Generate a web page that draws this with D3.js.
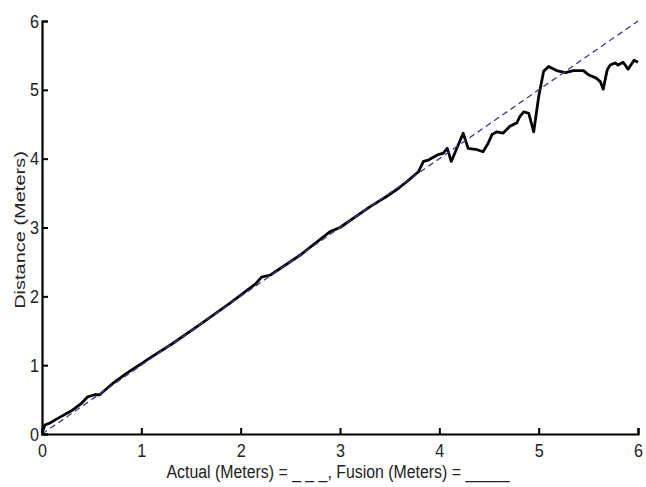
<!DOCTYPE html>
<html>
<head>
<meta charset="utf-8">
<script src="https://d3js.org/d3.v7.min.js"></script>
<style>
  body { margin: 0; background: #fff; }
  text { font-family: "Liberation Sans", Arial, sans-serif; fill: #222; }
</style>
</head>
<body>
<script>
// fusion distance estimate vs actual distance (meters)
var fusionX = [0.00, 0.03, 0.08, 0.15, 0.31, 0.40, 0.46, 0.53, 0.58, 0.70, 0.85, 1.00, 1.06, 1.30, 1.60, 1.90,
               2.15, 2.21, 2.30, 2.60, 2.90, 3.00, 3.30, 3.50, 3.59, 3.70, 3.79, 3.84, 3.89, 3.99, 4.04, 4.08,
               4.12, 4.24, 4.29, 4.38, 4.44, 4.49, 4.53, 4.58, 4.64, 4.71, 4.78, 4.81, 4.85, 4.90, 4.95, 5.00,
               5.05, 5.10, 5.18, 5.27, 5.35, 5.45, 5.50, 5.58, 5.62, 5.65, 5.69, 5.72, 5.77, 5.80, 5.85, 5.90,
               5.96, 6.00];
var fusionY = [0.02, 0.13, 0.16, 0.22, 0.35, 0.45, 0.54, 0.57, 0.57, 0.72, 0.88, 1.02, 1.08, 1.30, 1.60, 1.91,
               2.18, 2.28, 2.31, 2.60, 2.94, 3.00, 3.30, 3.48, 3.57, 3.70, 3.81, 3.96, 3.98, 4.06, 4.08, 4.15,
               3.96, 4.37, 4.15, 4.13, 4.10, 4.22, 4.35, 4.39, 4.37, 4.47, 4.52, 4.61, 4.68, 4.66, 4.39, 4.90,
               5.27, 5.34, 5.28, 5.25, 5.28, 5.28, 5.22, 5.17, 5.12, 5.01, 5.29, 5.36, 5.39, 5.36, 5.40, 5.30,
               5.43, 5.40];
var actualX = [0, 6];
var actualY = [0, 6];
var xTicks = [0, 1, 2, 3, 4, 5, 6];
var yTicks = [0, 1, 2, 3, 4, 5, 6];
var xLabel = "Actual (Meters) = _ _ _, Fusion (Meters) =  _____";
var yLabel = "Distance (Meters)";

var W = 646, H = 487;
var margin = {top: 21, right: 8, bottom: 53, left: 42},
    width = W - margin.left - margin.right,
    height = H - margin.top - margin.bottom;

var svg = d3.select("body").append("svg")
    .attr("width", W)
    .attr("height", H);

svg.append("rect").attr("width", W).attr("height", H).attr("fill", "#fff");

var g = svg.append("g")
    .attr("transform", "translate(" + margin.left + "," + margin.top + ")");

var x = d3.scaleLinear().domain([0, 6]).range([0, width]);
var y = d3.scaleLinear().domain([0, 6]).range([height, 0]);

var line = d3.line()
    .x(function (d) { return x(d[0]); })
    .y(function (d) { return y(d[1]); });

var actual = actualX.map(function (v, i) { return [v, actualY[i]]; });
var fusion = fusionX.map(function (v, i) { return [v, fusionY[i]]; });

g.append("path")
    .datum(fusion)
    .attr("d", line)
    .attr("fill", "none")
    .attr("stroke", "#050505")
    .attr("stroke-width", 2.8)
    .attr("stroke-linejoin", "round");

g.append("path")
    .datum(actual)
    .attr("d", line)
    .attr("fill", "none")
    .attr("stroke", "#3a3a96")
    .attr("stroke-width", 1.3)
    .attr("stroke-dasharray", "6,4");

// axes: ticks point inward
var xAxis = g.append("g")
    .attr("transform", "translate(0," + height + ")")
    .call(d3.axisBottom(x).tickValues(xTicks).tickFormat(d3.format("d")).tickSize(-6).tickPadding(20));

var yAxis = g.append("g")
    .call(d3.axisLeft(y).tickValues(yTicks).tickFormat(d3.format("d")).tickSize(-6).tickPadding(3));

[xAxis, yAxis].forEach(function (a) {
    a.select(".domain").attr("stroke", "#000").attr("stroke-width", 2.2);
    a.selectAll(".tick line").attr("stroke", "#000").attr("stroke-width", 2);
    a.selectAll(".tick text")
        .attr("font-size", 19)
        .attr("font-family", "Liberation Sans, Arial, sans-serif")
        .attr("fill", "#222")
        .attr("textLength", 9)
        .attr("lengthAdjust", "spacingAndGlyphs");
});
xAxis.selectAll(".tick text").attr("dy", "0.71em").attr("y", 10);

svg.append("text")
    .attr("x", 338)
    .attr("y", 478)
    .attr("text-anchor", "middle")
    .attr("font-size", 18)
    .attr("textLength", 343)
    .attr("lengthAdjust", "spacingAndGlyphs")
    .text(xLabel);

svg.append("text")
    .attr("transform", "translate(25,230) scale(0.75,1) rotate(-90)")
    .attr("text-anchor", "middle")
    .attr("font-size", 20)
    .text(yLabel);
</script>
</body>
</html>
